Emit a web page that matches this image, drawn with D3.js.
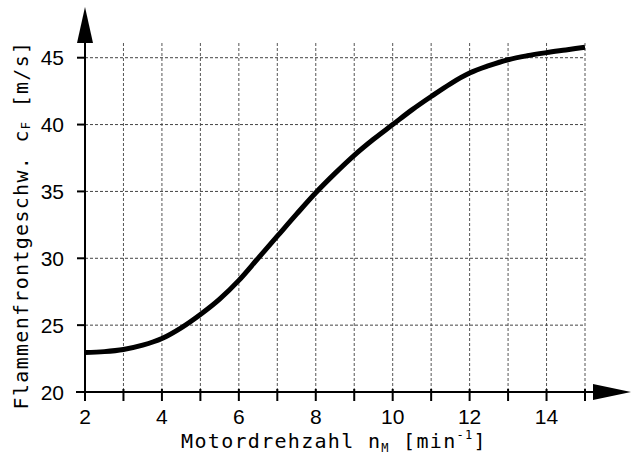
<!DOCTYPE html>
<html>
<head>
<meta charset="utf-8">
<script src="https://cdn.jsdelivr.net/npm/d3@7"></script>
<style>
  body { margin: 0; background: #fff; }
  .tick-label { font-family: "Liberation Sans", Arial, sans-serif; font-size: 21px; fill: #000; }
  .title { font-family: "DejaVu Sans Mono", monospace; font-size: 20px; letter-spacing: 1.3px; fill: #000; }
</style>
</head>
<body>
<div class="chart-container"></div>
<script>
        // values
        var speed = [2, 2.5, 3, 3.5, 4, 4.5, 5, 5.5, 6, 6.5, 7, 7.5, 8, 8.5, 9, 9.5, 10, 10.5, 11, 11.5, 12, 12.5, 13, 13.5, 14, 14.5, 15];
        var flameSpeed = [22.95, 23.02, 23.18, 23.5, 24.0, 24.8, 25.8, 26.95, 28.35, 30.0, 31.65, 33.3, 34.9, 36.35, 37.7, 38.9, 40.0, 41.1, 42.1, 43.05, 43.85, 44.4, 44.85, 45.15, 45.38, 45.58, 45.78];
        var xTicks = [2, 4, 6, 8, 10, 12, 14];
        var xMinor = [2, 3, 4, 5, 6, 7, 8, 9, 10, 11, 12, 13, 14, 15];
        var yTicks = [20, 25, 30, 35, 40, 45];

        var W = 632, H = 455;
        var margin = {top: 43, right: 47, bottom: 63, left: 85},
            width = W - margin.left - margin.right,
            height = H - margin.top - margin.bottom;

        var x = d3.scaleLinear().domain([2, 15]).range([0, width]),
            y = d3.scaleLinear().domain([20, 46.1]).range([height, 0]);

        var svg = d3.select(".chart-container").append("svg")
            .attr("width", W)
            .attr("height", H);

        var g = svg.append("g")
            .attr("transform", "translate(" + margin.left + "," + margin.top + ")");

        // grid
        g.append("g").selectAll("line.vgrid")
            .data(xMinor.filter(function(d) { return d > 2; }))
          .enter().append("line")
            .attr("x1", function(d) { return x(d); })
            .attr("x2", function(d) { return x(d); })
            .attr("y1", 0)
            .attr("y2", height)
            .style("stroke", "#555")
            .style("stroke-dasharray", "3,2");

        g.append("g").selectAll("line.hgrid")
            .data(yTicks.filter(function(d) { return d > 20; }))
          .enter().append("line")
            .attr("x1", 0)
            .attr("x2", width)
            .attr("y1", function(d) { return y(d); })
            .attr("y2", function(d) { return y(d); })
            .style("stroke", "#444")
            .style("stroke-dasharray", "3,2");

        // axes lines
        g.append("line")
            .attr("x1", -9).attr("x2", width + 10)
            .attr("y1", height).attr("y2", height)
            .style("stroke", "#000").style("stroke-width", 2);
        g.append("line")
            .attr("x1", 0).attr("x2", 0)
            .attr("y1", height + 8).attr("y2", -2)
            .style("stroke", "#000").style("stroke-width", 2);

        // arrow heads
        g.append("path")
            .attr("d", "M" + (-8) + ",0 L0," + (-36) + " L8,0 Z")
            .style("fill", "#000");
        g.append("path")
            .attr("d", "M" + (width + 8) + "," + (height - 8) + " L" + (width + 46) + "," + height + " L" + (width + 8) + "," + (height + 8) + " Z")
            .style("fill", "#000");

        // ticks
        g.append("g").selectAll("line")
            .data(xMinor)
          .enter().append("line")
            .attr("x1", function(d) { return x(d); })
            .attr("x2", function(d) { return x(d); })
            .attr("y1", height - 3)
            .attr("y2", height + 9)
            .style("stroke", "#000").style("stroke-width", 2);

        g.append("g").selectAll("line")
            .data(yTicks)
          .enter().append("line")
            .attr("x1", -8).attr("x2", 0)
            .attr("y1", function(d) { return y(d); })
            .attr("y2", function(d) { return y(d); })
            .style("stroke", "#000").style("stroke-width", 2);

        g.append("g").selectAll("text")
            .data(xTicks)
          .enter().append("text")
            .attr("class", "tick-label")
            .attr("x", function(d) { return x(d); })
            .attr("y", height + 32)
            .attr("text-anchor", "middle")
            .text(function(d) { return d; });

        g.append("g").selectAll("text")
            .data(yTicks)
          .enter().append("text")
            .attr("class", "tick-label")
            .attr("x", -21)
            .attr("y", function(d) { return y(d); })
            .attr("dy", "0.36em")
            .attr("text-anchor", "end")
            .text(function(d) { return d; });

        // curve
        var line = d3.line()
            .x(function(d) { return x(d[0]); })
            .y(function(d) { return y(d[1]); })
            .curve(d3.curveMonotoneX);

        g.append("path")
            .datum(speed.map(function(s, i) { return [s, flameSpeed[i]]; }))
            .attr("d", line)
            .style("fill", "none")
            .style("stroke", "#000")
            .style("stroke-width", 5);

        // titles
        var xt = svg.append("text")
            .attr("class", "title")
            .attr("x", 334)
            .attr("y", 448)
            .attr("text-anchor", "middle");
        xt.append("tspan").text("Motordrehzahl n");
        xt.append("tspan").attr("font-size", "12px").attr("dy", 4).text("M");
        xt.append("tspan").attr("dy", -4).text(" [min");
        xt.append("tspan").attr("font-size", "12px").attr("dy", -9).text("-1");
        xt.append("tspan").attr("dy", 9).text("]");

        var yt = svg.append("text")
            .attr("class", "title")
            .attr("transform", "translate(28,225) rotate(-90)")
            .attr("text-anchor", "middle");
        yt.append("tspan").text("Flammenfrontgeschw. c");
        yt.append("tspan").attr("font-size", "12px").attr("dy", 2).text("F");
        yt.append("tspan").attr("dy", -2).text(" [m/s]");
</script>
</body>
</html>
